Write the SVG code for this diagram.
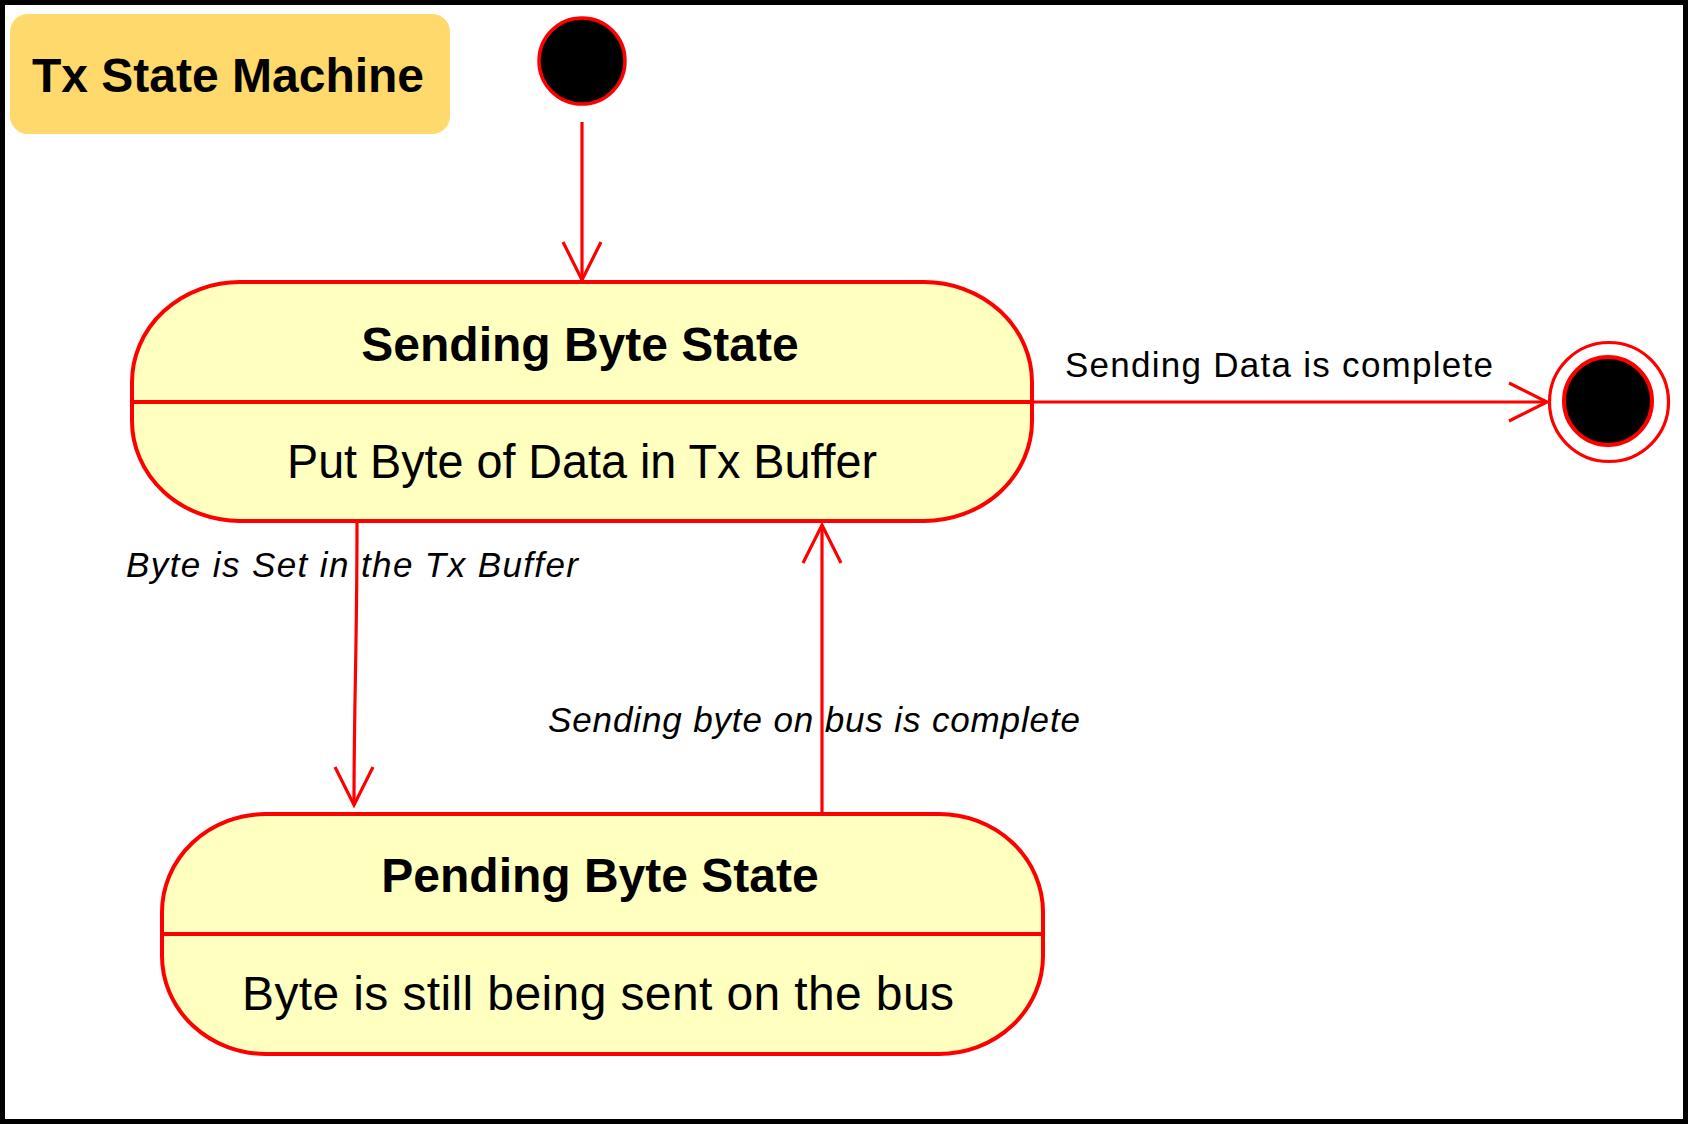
<svg xmlns="http://www.w3.org/2000/svg" width="1688" height="1124" viewBox="0 0 1688 1124">
  <style>
    .state { fill: #FFFFC0; stroke: #FF0000; stroke-width: 4; }
    .div { stroke: #FF0000; stroke-width: 4; }
    .conn { fill: none; stroke: #FF0000; stroke-width: 3.2; }
    .title { font-family: "Liberation Sans", Arial, sans-serif; font-weight: bold; font-size: 48px; fill: #000; }
    .body { font-family: "Liberation Sans", Arial, sans-serif; font-size: 48px; fill: #000; }
    .lbl { font-family: "Liberation Sans", Arial, sans-serif; font-size: 35px; fill: #000; }
    .ilbl { font-family: "Liberation Sans", Arial, sans-serif; font-size: 35px; font-style: italic; fill: #000; }
  </style>
  <defs>
    <marker id="openArrow" viewBox="-42 -24 48 48" refX="0" refY="0" markerWidth="48" markerHeight="48" orient="auto" markerUnits="userSpaceOnUse">
      <path d="M-38,-19 L0,0 L-38,19" fill="none" stroke="#FF0000" stroke-width="3.2"/>
    </marker>
  </defs>
  <rect x="0" y="0" width="1688" height="1124" fill="#FFFFFF"/>
  <rect x="2.5" y="2.5" width="1683" height="1119" fill="none" stroke="#000000" stroke-width="5"/>

  <g id="title">
    <rect x="10" y="14" width="440" height="120" rx="18" ry="18" fill="#FFD96B"/>
    <text class="title" x="228" y="92" text-anchor="middle">Tx State Machine</text>
  </g>

  <g id="initial">
    <circle cx="582" cy="61" r="43" fill="#000000" stroke="#FF0000" stroke-width="3.5"/>
  </g>

  <g id="sending">
    <rect class="state" x="132" y="282" width="900" height="239" rx="108" ry="100"/>
    <line class="div" x1="132" y1="402" x2="1032" y2="402"/>
    <text class="title" x="580" y="361" text-anchor="middle">Sending Byte State</text>
    <text class="body" x="582" y="478" text-anchor="middle" textLength="590" lengthAdjust="spacingAndGlyphs">Put Byte of Data in Tx Buffer</text>
  </g>

  <g id="pending">
    <rect class="state" x="162" y="814" width="881" height="240" rx="104" ry="98"/>
    <line class="div" x1="162" y1="934" x2="1043" y2="934"/>
    <text class="title" x="600" y="892" text-anchor="middle">Pending Byte State</text>
    <text class="body" x="598" y="1010" text-anchor="middle" textLength="712" lengthAdjust="spacing">Byte is still being sent on the bus</text>
  </g>

  <g id="final">
    <circle cx="1609" cy="402" r="59.5" fill="#FFFFFF" stroke="#FF0000" stroke-width="3.2"/>
    <circle cx="1608" cy="401" r="44" fill="#000000" stroke="#FF0000" stroke-width="4"/>
  </g>

  <g id="connectors">
    <line class="conn" x1="582" y1="122" x2="582" y2="280" marker-end="url(#openArrow)"/>
    <line class="conn" x1="1033" y1="402" x2="1547" y2="402" marker-end="url(#openArrow)"/>
    <path class="conn" d="M357,521 C357,650 354,700 354,805" marker-end="url(#openArrow)"/>
    <line class="conn" x1="822" y1="813" x2="822" y2="525" marker-end="url(#openArrow)"/>
    <text class="lbl" x="1065" y="377" textLength="428" lengthAdjust="spacing">Sending Data is complete</text>
    <text class="ilbl" x="126" y="577" textLength="452" lengthAdjust="spacing">Byte is Set in the Tx Buffer</text>
    <text class="ilbl" x="548" y="732" textLength="532" lengthAdjust="spacing">Sending byte on bus is complete</text>
  </g>
</svg>
